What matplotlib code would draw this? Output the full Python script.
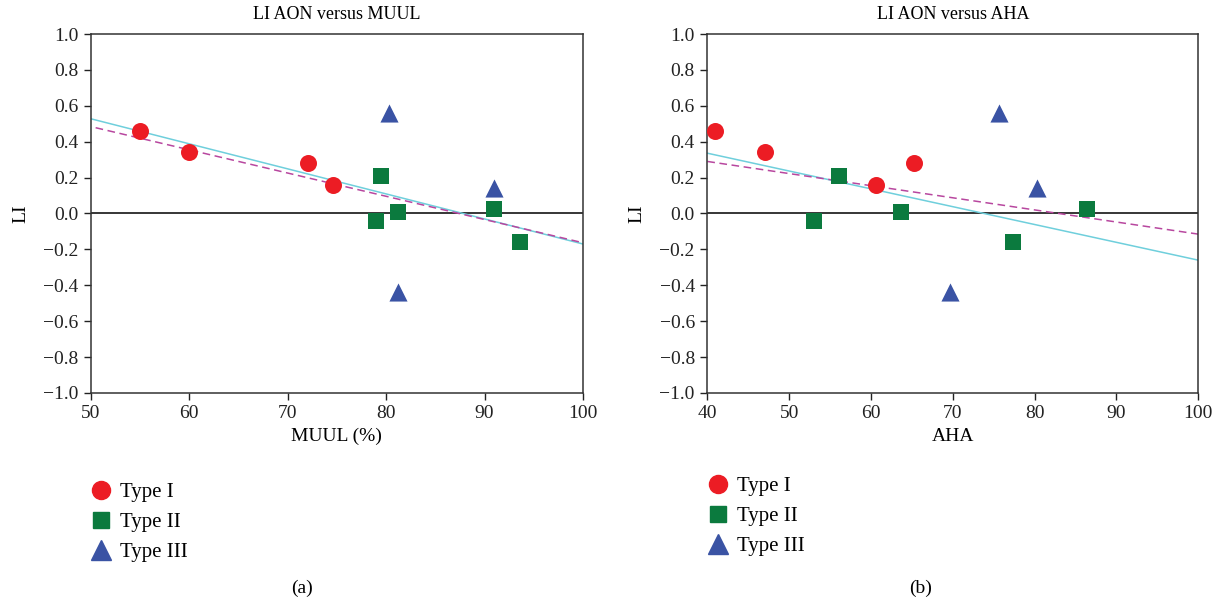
import matplotlib
matplotlib.use("Agg")
import matplotlib.pyplot as plt
from matplotlib.lines import Line2D

plt.rcParams["font.family"] = ["Liberation Serif", "DejaVu Serif"]

# LI values per group (shared between both panels)
li_type1 = [0.46, 0.34, 0.28, 0.16]
li_type2 = [0.21, -0.04, 0.01, 0.025, -0.16]
li_type3 = [0.56, 0.14, -0.44]

# panel (a): MUUL (%)
muul_type1 = [55.0, 60.0, 72.1, 74.6]
muul_type2 = [79.5, 79.0, 81.2, 91.0, 93.6]
muul_type3 = [80.3, 91.0, 81.2]

# panel (b): AHA
aha_type1 = [40.9, 47.0, 65.2, 60.6]
aha_type2 = [56.1, 53.0, 63.7, 86.4, 77.4]
aha_type3 = [75.7, 80.3, 69.7]

# regression line endpoints
muul_fit_x = [50, 100]
muul_fit_y = [0.528, -0.170]
muul_dash_x = [50.5, 100]
muul_dash_y = [0.478, -0.163]

aha_fit_x = [40, 100]
aha_fit_y = [0.336, -0.26]
aha_dash_x = [40, 100]
aha_dash_y = [0.29, -0.115]

RED = "#ec1c24"
GREEN = "#0b7a3e"
BLUE = "#3a53a4"
CYAN = "#6fcfdc"
MAGENTA = "#b8479f"

yticks = [round(-1 + 0.2 * i, 1) for i in range(11)]

fig = plt.figure(figsize=(12.24, 6.02), dpi=100)


def panel(rect, xs, fit, dash, xlim, xticks, xlabel, title, tag, leg_xy, tag_x):
    ax = fig.add_axes(rect)
    ax.plot(fit[0], fit[1], color=CYAN, lw=1.1, zorder=2)
    ax.plot(dash[0], dash[1], color=MAGENTA, lw=1.1, ls=(0, (5, 3)), zorder=2)
    ax.axhline(0, color="black", lw=1.1, zorder=1)
    ax.scatter(xs[0], li_type1, marker="o", s=150, color=RED, lw=0, zorder=3)
    ax.scatter(xs[1], li_type2, marker="s", s=130, color=GREEN, lw=0, zorder=3)
    ax.scatter(xs[2], li_type3, marker="^", s=170, color=BLUE, lw=0, zorder=3)
    ax.set_xlim(*xlim)
    ax.set_ylim(-1, 1)
    ax.set_xticks(xticks)
    ax.set_yticks(yticks)
    ax.set_yticklabels([f"{v:.1f}".replace("-", "\u2212") for v in yticks])
    ax.tick_params(direction="out", length=5, width=1, labelsize=14,
                   colors="#222222", pad=4)
    for s in ax.spines.values():
        s.set_linewidth(1.1)
        s.set_color("#333333")
    ax.set_title(title, fontsize=13, pad=11)
    ax.set_xlabel(xlabel, fontsize=14, labelpad=4)
    ax.set_ylabel("LI", fontsize=14, labelpad=10)

    handles = [
        Line2D([], [], marker="o", ls="", color=RED, ms=13, label="Type I"),
        Line2D([], [], marker="s", ls="", color=GREEN, ms=12, label="Type II"),
        Line2D([], [], marker="^", ls="", color=BLUE, ms=14, label="Type III"),
    ]
    fig.legend(handles=handles, loc="upper left", bbox_to_anchor=leg_xy,
               frameon=False, fontsize=15, handletextpad=0.15, handlelength=1.5,
               labelspacing=0.5, borderaxespad=0)
    fig.text(tag_x, 0.008, tag, fontsize=14, ha="center", va="bottom")


panel([0.0741, 0.3472, 0.4022, 0.5963],
      (muul_type1, muul_type2, muul_type3),
      (muul_fit_x, muul_fit_y), (muul_dash_x, muul_dash_y),
      (50, 100), [50, 60, 70, 80, 90, 100],
      "MUUL (%)", "LI AON versus MUUL", "(a)", (0.063, 0.212), 0.247)

panel([0.5779, 0.3472, 0.4011, 0.5963],
      (aha_type1, aha_type2, aha_type3),
      (aha_fit_x, aha_fit_y), (aha_dash_x, aha_dash_y),
      (40, 100), [40, 50, 60, 70, 80, 90, 100],
      "AHA", "LI AON versus AHA", "(b)", (0.567, 0.222), 0.752)

fig.savefig("out.png", dpi=100)
